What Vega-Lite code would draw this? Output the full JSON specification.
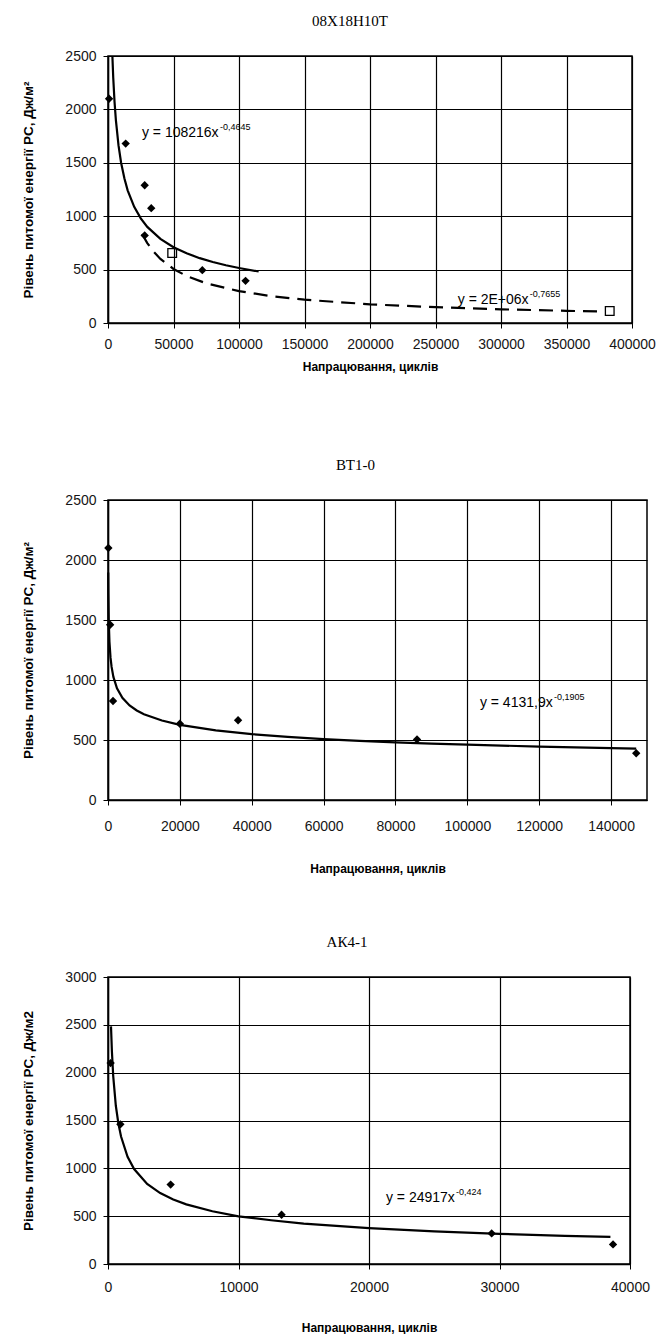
{
  "$schema": "https://vega.github.io/schema/vega-lite/v6.json",
  "padding": {"left": 21, "top": 13, "right": 0, "bottom": 0},
  "spacing": 177,
  "bounds": "flush",
  "config": {
    "font": "Liberation Sans",
    "view": {"stroke": "black", "strokeWidth": 1.5},
    "axis": {"gridColor": "black", "gridOpacity": 1, "gridWidth": 1.2, "domainColor": "black", "domainWidth": 1.5, "tickColor": "black", "tickSize": 5, "labelFont": "Liberation Sans", "labelFontSize": 14, "labelColor": "#151515", "labelFlush": false, "labelOverlap": false, "titleFont": "Liberation Sans", "titleFontSize": 12, "titleFontWeight": "bold", "titleColor": "black"},
    "axisY": {"titleFontSize": 13.5, "labelPadding": 7, "titlePadding": 29},
    "title": {"font": "Liberation Serif", "fontSize": 15, "fontWeight": "normal", "color": "black", "anchor": "middle"}
  },
  "datasets": {
    "c1_pts": [{"x": 800, "y": 2100}, {"x": 13500, "y": 1680}, {"x": 28000, "y": 1290}, {"x": 33000, "y": 1075}, {"x": 28000, "y": 820}, {"x": 72000, "y": 495}, {"x": 105000, "y": 395}],
    "c1_sq": [{"x": 49000, "y": 655}, {"x": 383000, "y": 112}],
    "c1_fit1": [{"x": 3350, "y": 2500}, {"x": 4000, "y": 2297}, {"x": 5000, "y": 2069}, {"x": 6000, "y": 1902}, {"x": 8000, "y": 1665}, {"x": 10000, "y": 1501}, {"x": 12500, "y": 1356}, {"x": 15000, "y": 1242}, {"x": 20000, "y": 1088}, {"x": 25000, "y": 980}, {"x": 30000, "y": 900}, {"x": 40000, "y": 788}, {"x": 50000, "y": 710}, {"x": 60000, "y": 653}, {"x": 70000, "y": 607}, {"x": 80000, "y": 571}, {"x": 90000, "y": 541}, {"x": 100000, "y": 515}, {"x": 115000, "y": 482}],
    "c1_fit2": [{"x": 26000, "y": 834}, {"x": 30000, "y": 748}, {"x": 35000, "y": 666}, {"x": 40000, "y": 600}, {"x": 50000, "y": 506}, {"x": 60000, "y": 440}, {"x": 75000, "y": 371}, {"x": 100000, "y": 298}, {"x": 125000, "y": 251}, {"x": 150000, "y": 218}, {"x": 200000, "y": 175}, {"x": 250000, "y": 148}, {"x": 300000, "y": 128}, {"x": 350000, "y": 114}, {"x": 377000, "y": 107}],
    "c1_eq": [{"x": 25900, "y": 1782, "main": "y = 108216x", "sup": "-0,4645"}],
    "c1_eq2": [{"x": 267000, "y": 215, "main": "y = 2E+06x", "sup": "-0,7655"}],
    "c2_pts": [{"x": 100, "y": 2100}, {"x": 600, "y": 1460}, {"x": 1400, "y": 825}, {"x": 20000, "y": 635}, {"x": 36200, "y": 665}, {"x": 86000, "y": 505}, {"x": 147000, "y": 390}],
    "c2_fit": [{"x": 60, "y": 1895}, {"x": 100, "y": 1720}, {"x": 200, "y": 1507}, {"x": 400, "y": 1320}, {"x": 700, "y": 1186}, {"x": 1000, "y": 1109}, {"x": 1500, "y": 1026}, {"x": 2500, "y": 931}, {"x": 4000, "y": 851}, {"x": 6000, "y": 788}, {"x": 8000, "y": 746}, {"x": 10000, "y": 715}, {"x": 15000, "y": 662}, {"x": 20000, "y": 626}, {"x": 30000, "y": 580}, {"x": 40000, "y": 549}, {"x": 50000, "y": 526}, {"x": 60000, "y": 508}, {"x": 70000, "y": 493}, {"x": 80000, "y": 481}, {"x": 90000, "y": 470}, {"x": 100000, "y": 461}, {"x": 120000, "y": 445}, {"x": 140000, "y": 432}, {"x": 147000, "y": 428}],
    "c2_eq": [{"x": 103500, "y": 808, "main": "y = 4131,9x", "sup": "-0,1905"}],
    "c3_pts": [{"x": 200, "y": 2100}, {"x": 950, "y": 1460}, {"x": 4800, "y": 830}, {"x": 13300, "y": 515}, {"x": 29400, "y": 320}, {"x": 38700, "y": 205}],
    "c3_fit": [{"x": 230, "y": 2484}, {"x": 300, "y": 2221}, {"x": 400, "y": 1964}, {"x": 600, "y": 1654}, {"x": 800, "y": 1465}, {"x": 1000, "y": 1332}, {"x": 1500, "y": 1121}, {"x": 2000, "y": 992}, {"x": 3000, "y": 836}, {"x": 4000, "y": 741}, {"x": 5000, "y": 674}, {"x": 6000, "y": 623}, {"x": 8000, "y": 551}, {"x": 10000, "y": 498}, {"x": 12500, "y": 457}, {"x": 15000, "y": 423}, {"x": 20000, "y": 374}, {"x": 25000, "y": 340}, {"x": 30000, "y": 315}, {"x": 35000, "y": 295}, {"x": 38500, "y": 284}],
    "c3_eq": [{"x": 21300, "y": 690, "main": "y = 24917x", "sup": "-0,424"}]
  },
  "vconcat": [
    {
      "width": 524, "height": 267,
      "title": {"text": "08Х18Н10Т", "offset": 20, "dx": -20},
      "encoding": {
        "x": {"field": "x", "type": "quantitative", "scale": {"domain": [0, 400000], "nice": false, "zero": false}, "axis": {"title": "Напрацювання, циклів", "values": [0, 50000, 100000, 150000, 200000, 250000, 300000, 350000, 400000], "format": "d", "labelPadding": 9, "titlePadding": 10}},
        "y": {"field": "y", "type": "quantitative", "scale": {"domain": [0, 2500], "nice": false}, "axis": {"title": "Рівень питомої енергії PC, Дж/м²", "values": [0, 500, 1000, 1500, 2000, 2500], "format": "d"}}
      },
      "layer": [
        {"data": {"name": "c1_fit1"}, "mark": {"type": "line", "color": "black", "strokeWidth": 2.2}},
        {"data": {"name": "c1_fit2"}, "mark": {"type": "line", "color": "black", "strokeWidth": 2.2, "strokeDash": [14, 8]}},
        {"data": {"name": "c1_pts"}, "mark": {"type": "point", "shape": "diamond", "filled": true, "color": "black", "size": 70, "opacity": 1}},
        {"data": {"name": "c1_sq"}, "mark": {"type": "point", "shape": "square", "filled": false, "color": "black", "strokeWidth": 1.3, "size": 75, "opacity": 1}},
        {"data": {"name": "c1_eq"}, "mark": {"type": "text", "align": "left", "baseline": "middle", "fontSize": 14, "color": "black"}, "encoding": {"text": {"field": "main"}}},
        {"data": {"name": "c1_eq"}, "mark": {"type": "text", "align": "left", "baseline": "middle", "fontSize": 9, "dx": 78, "dy": -6, "color": "black"}, "encoding": {"text": {"field": "sup"}}},
        {"data": {"name": "c1_eq2"}, "mark": {"type": "text", "align": "left", "baseline": "middle", "fontSize": 14, "color": "black"}, "encoding": {"text": {"field": "main"}}},
        {"data": {"name": "c1_eq2"}, "mark": {"type": "text", "align": "left", "baseline": "middle", "fontSize": 9, "dx": 72, "dy": -6, "color": "black"}, "encoding": {"text": {"field": "sup"}}}
      ]
    },
    {
      "width": 539, "height": 300,
      "title": {"text": "ВТ1-0", "offset": 20, "dx": -22},
      "encoding": {
        "x": {"field": "x", "type": "quantitative", "scale": {"domain": [0, 150000], "nice": false, "zero": false}, "axis": {"title": "Напрацювання, циклів", "values": [0, 20000, 40000, 60000, 80000, 100000, 120000, 140000], "format": "d", "labelPadding": 14, "titlePadding": 30}},
        "y": {"field": "y", "type": "quantitative", "scale": {"domain": [0, 2500], "nice": false}, "axis": {"title": "Рівень питомої енергії PC, Дж/м²", "values": [0, 500, 1000, 1500, 2000, 2500], "format": "d"}}
      },
      "layer": [
        {"data": {"name": "c2_fit"}, "mark": {"type": "line", "color": "black", "strokeWidth": 2.2}},
        {"data": {"name": "c2_pts"}, "mark": {"type": "point", "shape": "diamond", "filled": true, "color": "black", "size": 70, "opacity": 1}},
        {"data": {"name": "c2_eq"}, "mark": {"type": "text", "align": "left", "baseline": "middle", "fontSize": 14, "color": "black"}, "encoding": {"text": {"field": "main"}}},
        {"data": {"name": "c2_eq"}, "mark": {"type": "text", "align": "left", "baseline": "middle", "fontSize": 9, "dx": 74, "dy": -6, "color": "black"}, "encoding": {"text": {"field": "sup"}}}
      ]
    },
    {
      "width": 522, "height": 287,
      "title": {"text": "АК4-1", "offset": 20, "dx": -22},
      "encoding": {
        "x": {"field": "x", "type": "quantitative", "scale": {"domain": [0, 40000], "nice": false, "zero": false}, "axis": {"title": "Напрацювання, циклів", "values": [0, 10000, 20000, 30000, 40000], "format": "d", "labelPadding": 11, "titlePadding": 28}},
        "y": {"field": "y", "type": "quantitative", "scale": {"domain": [0, 3000], "nice": false}, "axis": {"title": "Рівень питомої енергії PC, Дж/м2", "values": [0, 500, 1000, 1500, 2000, 2500, 3000], "format": "d"}}
      },
      "layer": [
        {"data": {"name": "c3_fit"}, "mark": {"type": "line", "color": "black", "strokeWidth": 2.2}},
        {"data": {"name": "c3_pts"}, "mark": {"type": "point", "shape": "diamond", "filled": true, "color": "black", "size": 70, "opacity": 1}},
        {"data": {"name": "c3_eq"}, "mark": {"type": "text", "align": "left", "baseline": "middle", "fontSize": 14, "color": "black"}, "encoding": {"text": {"field": "main"}}},
        {"data": {"name": "c3_eq"}, "mark": {"type": "text", "align": "left", "baseline": "middle", "fontSize": 9, "dx": 70, "dy": -6, "color": "black"}, "encoding": {"text": {"field": "sup"}}}
      ]
    }
  ]
}
